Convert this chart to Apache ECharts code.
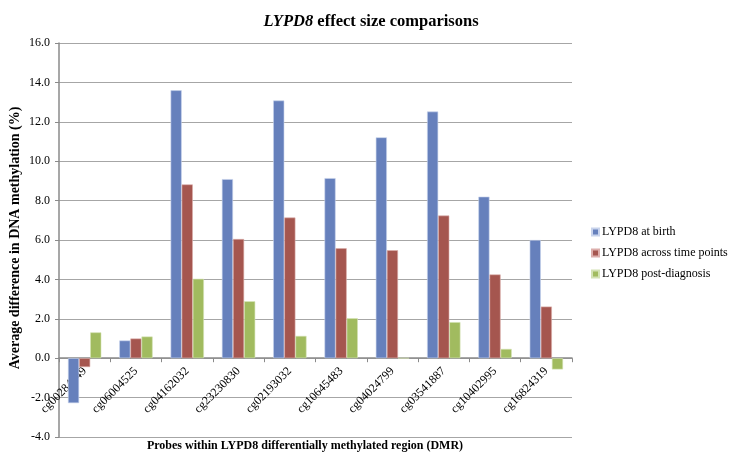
<!DOCTYPE html>
<html>
<head>
<meta charset="utf-8">
<script src="https://cdn.jsdelivr.net/npm/echarts@6/dist/echarts.min.js"></script>
<style>
  html, body { margin: 0; padding: 0; background: #fff; }
  #chart { width: 733px; height: 458px; }
</style>
</head>
<body>
<div id="chart"></div>
<script>
// Probe IDs within the LYPD8 DMR
const probes = ['cg00284449', 'cg06004525', 'cg04162032', 'cg23230830', 'cg02193032',
                'cg10645483', 'cg04024799', 'cg03541887', 'cg10402995', 'cg16824319'];

// Average difference in DNA methylation (%) per comparison
const atBirth = [-2.28, 0.90, 13.60, 9.09, 13.08, 9.14, 11.21, 12.52, 8.20, 6.00];
const acrossTime = [-0.45, 1.00, 8.82, 6.05, 7.14, 5.58, 5.48, 7.24, 4.25, 2.62];
const postDiagnosis = [1.31, 1.10, 4.03, 2.89, 1.13, 2.03, 0, 1.83, 0.47, -0.57];

const seriesNames = ['LYPD8 at birth', 'LYPD8 across time points', 'LYPD8 post-diagnosis'];
const seriesColors = ['#6680bc', '#a5564f', '#a1bb5f'];
const seriesBorders = ['#c8d3ec', '#dcaeab', '#d3e2b4'];

const yMin = -4, yMax = 16, yStep = 2;

const serif = '"Liberation Serif", "DejaVu Serif", serif';

// plot rectangle
const gridLeft = 59, gridRight = 161, gridTop = 43, gridBottom = 21;
const plotH = 458 - gridTop - gridBottom;
// the category axis sits on the zero line
const zeroOffset = -plotH * (0 - yMin) / (yMax - yMin);

const chart = echarts.init(document.getElementById('chart'));

const mkSeries = (name, data, i) => ({
  name: name,
  type: 'bar',
  data: data,
  barGap: '0%',
  barCategoryGap: '35%',
  itemStyle: { color: seriesColors[i], borderColor: seriesBorders[i], borderWidth: 0.6 },
  emphasis: { disabled: true }
});

chart.setOption({
  animation: false,
  title: {
    text: '{i|LYPD8} effect size comparisons',
    left: 366,
    textAlign: 'center',
    top: 8,
    textStyle: {
      fontFamily: serif, fontSize: 16.5, fontWeight: 'bold', color: '#000',
      rich: { i: { fontFamily: serif, fontSize: 16.5, fontWeight: 'bold', fontStyle: 'italic', color: '#000' } }
    }
  },
  graphic: [
    {
      type: 'text',
      x: 15, y: 238,
      rotation: Math.PI / 2,
      style: {
        text: 'Average difference in DNA methylation (%)',
        font: 'bold 14px ' + serif,
        fill: '#000',
        align: 'center',
        verticalAlign: 'middle'
      }
    },
    {
      type: 'text',
      x: 305, y: 446,
      style: {
        text: 'Probes within LYPD8 differentially methylated region (DMR)',
        font: 'bold 12px ' + serif,
        fill: '#000',
        align: 'center',
        verticalAlign: 'middle'
      }
    }
  ],
  legend: {
    orient: 'vertical',
    left: 586,
    top: 221,
    itemWidth: 7,
    itemHeight: 7,
    itemGap: 9,
    icon: 'rect',
    textStyle: { fontFamily: serif, fontSize: 12, color: '#000', padding: [0, 0, 0, -2] },
    data: seriesNames
  },
  grid: { left: gridLeft, right: gridRight, top: gridTop, bottom: gridBottom,
          containLabel: false, outerBoundsMode: 'none' },
  xAxis: {
    type: 'category',
    data: probes,
    position: 'bottom',
    offset: zeroOffset,
    axisLine: { onZero: false, lineStyle: { color: '#8a8a8a', width: 1.5 } },
    axisTick: { show: true, alignWithLabel: false, inside: false, length: 4, lineStyle: { color: '#8a8a8a' } },
    axisLabel: { rotate: 45, margin: 11, fontFamily: serif, fontSize: 12, color: '#000', interval: 0 },
    splitLine: { show: false }
  },
  yAxis: {
    type: 'value',
    min: yMin,
    max: yMax,
    interval: yStep,
    axisLine: { show: true, lineStyle: { color: '#8a8a8a', width: 1.5 } },
    axisTick: { show: true, length: 4, lineStyle: { color: '#8a8a8a' } },
    axisLabel: { fontFamily: serif, fontSize: 12, color: '#000', margin: 9,
                 formatter: v => v.toFixed(1) },
    splitLine: { lineStyle: { color: '#a6a6a6', width: 1.2 } }
  },
  series: [
    mkSeries(seriesNames[0], atBirth, 0),
    mkSeries(seriesNames[1], acrossTime, 1),
    mkSeries(seriesNames[2], postDiagnosis, 2)
  ]
});
</script>
</body>
</html>
